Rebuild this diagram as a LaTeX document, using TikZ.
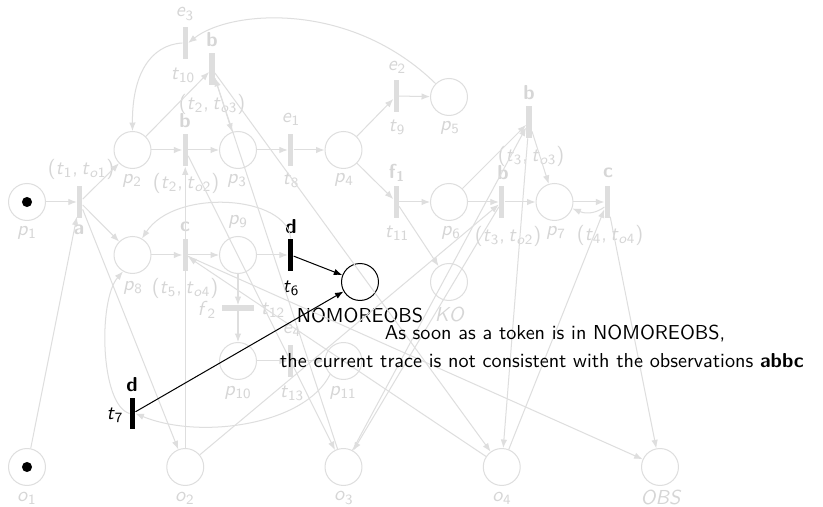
\documentclass[tikz,border=0pt]{standalone}
\usetikzlibrary{arrows.meta,calc}
\renewcommand{\familydefault}{\sfdefault}
\definecolor{fadeline}{RGB}{222,222,222}
\definecolor{fadetext}{RGB}{214,214,214}
% variable with subscript, sans italic like beamer math
\newcommand\mv[2]{\textit{#1}\textsubscript{#2}}
\newcommand\pair[2]{(\mv{t}{#1},\,\mv{t}{\textit{o}#2})}
\begin{document}
\begin{tikzpicture}[x=0.495pt,y=-0.495pt,font=\sffamily,
  pl/.style={circle,draw=fadeline,line width=0.5pt,minimum size=18.3pt,inner sep=0pt},
  plon/.style={pl,draw=black},
  tok/.style={circle,fill=black,minimum size=5pt,inner sep=0pt},
  tbar/.style={rectangle,fill=fadeline,draw=none,minimum width=2.5pt,minimum height=15.8pt,inner sep=0pt},
  thbar/.style={tbar,minimum width=15.8pt,minimum height=2.5pt},
  tbaron/.style={tbar,fill=black},
  lab/.style={text=fadetext,inner sep=0pt},
  labon/.style={text=black,inner sep=0pt},
  flow/.style={draw=fadeline,line width=0.5pt,-{Latex[length=4.2pt,width=3.2pt]}},
  flowon/.style={flow,draw=black}]
\fill[white] (0,0) rectangle (823,507);
\useasboundingbox (0,0) rectangle (823,507);

% places of the product net
\node[pl] (p1) at (27,202) {};
\node[tok] (p1tok) at (p1) {};
\node[pl] (p2) at (132.5,150) {};
\node[pl] (p3) at (238,150) {};
\node[pl] (p4) at (343.5,150) {};
\node[pl] (p5) at (449,97) {};
\node[pl] (p6) at (449,202) {};
\node[pl] (p7) at (554.5,202) {};
\node[pl] (p8) at (132.5,255) {};
\node[pl] (p9) at (238,255) {};
\node[pl] (p10) at (238,361) {};
\node[pl] (p11) at (343.5,361) {};
\node[plon] (nmo) at (360,282) {};
\node[pl] (ko) at (449,282) {};
% observation places
\node[pl] (o1) at (27,467) {};
\node[tok] (o1tok) at (o1) {};
\node[pl] (o2) at (185.25,467) {};
\node[pl] (o3) at (343.5,467) {};
\node[pl] (o4) at (501.75,467) {};
\node[pl] (obs) at (660,467) {};

% transitions
\node[tbar] (t1) at (79.75,202) {};
\node[tbar] (t2o2) at (185.25,150) {};
\node[tbar] (t2o3) at (212,69) {};
\node[tbar] (t10) at (185.25,43) {};
\node[tbar] (t8) at (290.75,150) {};
\node[tbar] (t9) at (396.25,96) {};
\node[tbar] (t11) at (396.25,202) {};
\node[tbar] (t3o2) at (501.75,202) {};
\node[tbar] (t3o3) at (529,122) {};
\node[tbar] (t4o4) at (607.25,202) {};
\node[tbar] (t5o4) at (185.25,255) {};
\node[tbaron] (t6) at (290.75,255) {};
\node[thbar] (t12) at (238,308) {};
\node[tbar] (t13) at (290.75,361) {};
\node[tbaron] (t7) at (132.5,413.5) {};

% labels of places
\node[lab] (lp1) at (27,233) {\mv{p}{1}};
\node[lab] (lp2) at (132,181) {\mv{p}{2}};
\node[lab] (lp3) at (237,181) {\mv{p}{3}};
\node[lab] (lp4) at (344,180) {\mv{p}{4}};
\node[lab] (lp5) at (450,128) {\mv{p}{5}};
\node[lab] (lp6) at (451,233) {\mv{p}{6}};
\node[lab] (lp7) at (556,233) {\mv{p}{7}};
\node[lab] (lp8) at (133,288) {\mv{p}{8}};
\node[lab] (lp9) at (238,222) {\mv{p}{9}};
\node[lab] (lp10) at (238,393) {\mv{p}{10}};
\node[lab] (lp11) at (343,393) {\mv{p}{11}};
\node[lab] (lko) at (450,314) {\textit{KO}};
\node[labon] (lnmo) at (360,315) {NOMOREOBS};
\node[lab] (lo1) at (27,498) {\mv{o}{1}};
\node[lab] (lo2) at (185,498) {\mv{o}{2}};
\node[lab] (lo3) at (344,498) {\mv{o}{3}};
\node[lab] (lo4) at (502,498) {\mv{o}{4}};
\node[lab] (lobs) at (661,497) {\textit{OBS}};

% labels of transitions
\node[lab] (lt1) at (81,169) {\pair{1}{1}};
\node[lab] (at1) at (79,230) {\textbf{a}};
\node[lab] (bt2o2) at (185,121) {\textbf{b}};
\node[lab] (lt2o2) at (186,183) {\pair{2}{2}};
\node[lab] (bt2o3) at (212,40) {\textbf{b}};
\node[lab] (lt2o3) at (212,104) {\pair{2}{3}};
\node[lab] (et10) at (185,14) {\mv{e}{3}};
\node[lab] (lt10) at (183,75) {\mv{t}{10}};
\node[lab] (et8) at (291,119) {\mv{e}{1}};
\node[lab] (lt8) at (291,180) {\mv{t}{8}};
\node[lab] (et9) at (397,67) {\mv{e}{2}};
\node[lab] (lt9) at (397,127) {\mv{t}{9}};
\node[lab] (ft11) at (397,173) {\textbf{f}\textsubscript{\textbf{1}}};
\node[lab] (lt11) at (397,233) {\mv{t}{11}};
\node[lab] (bt3o2) at (503,173) {\textbf{b}};
\node[lab] (lt3o2) at (508,236) {\pair{3}{2}};
\node[lab] (bt3o3) at (529,93) {\textbf{b}};
\node[lab] (lt3o3) at (531,156) {\pair{3}{3}};
\node[lab] (ct4o4) at (608,173) {\textbf{c}};
\node[lab] (lt4o4) at (610,235) {\pair{4}{4}};
\node[lab] (ct5o4) at (185,227) {\textbf{c}};
\node[lab] (lt5o4) at (185,288) {\pair{5}{4}};
\node[labon] (dt6) at (291,227) {\textbf{d}};
\node[labon] (lt6) at (291,288) {\mv{t}{6}};
\node[lab] (ft12) at (207,310) {\mv{f}{2}};
\node[lab] (lt12) at (273,310) {\mv{t}{12}};
\node[lab] (et13) at (292,330) {\mv{e}{4}};
\node[lab] (lt13) at (292,393) {\mv{t}{13}};
\node[labon] (dt7) at (132,385) {\textbf{d}};
\node[labon] (lt7) at (115,415) {\mv{t}{7}};

% arcs, first observation
\draw[flow] (p1) -- (t1);
\draw[flow] (o1) -- (t1);
\draw[flow] (t1) -- (p2);
\draw[flow] (t1) -- (p8);
\draw[flow] (t1) -- (o2);
% second and third observation
\draw[flow] (p2) -- (t2o2);
\draw[flow] (o2) -- (t2o2);
\draw[flow] (t2o2) -- (p3);
\draw[flow] (t2o2) -- (o3);
\draw[flow] (p2) -- (t2o3);
\draw[flow] (o3) -- (t2o3);
\draw[flow] (t2o3) -- (p3);
\draw[flow] (t2o3) -- (o4);
\draw[flow] (p6) -- (t3o2);
\draw[flow] (o2) -- (t3o2);
\draw[flow] (t3o2) -- (p7);
\draw[flow] (t3o2) -- (o3);
\draw[flow] (p6) -- (t3o3);
\draw[flow] (o3) -- (t3o3);
\draw[flow] (t3o3) -- (p7);
\draw[flow] (t3o3) -- (o4);
% fourth observation
\draw[flow] (p7) -- (t4o4);
\draw[flow] (o4) -- (t4o4);
\draw[flow] ([yshift=-2.5pt]t4o4.west) .. controls (598,212) and (588,215) .. (p7.-20);
\draw[flow] (t4o4) -- (obs);
\draw[flow] (p8) -- (t5o4);
\draw[flow] (o4) -- (t5o4);
\draw[flow] (t5o4) -- (p9);
\draw[flow] (t5o4) -- (obs);
% unobservable part
\draw[flow] (p3) -- (t8);
\draw[flow] (t8) -- (p4);
\draw[flow] (p4) -- (t9);
\draw[flow] (t9) -- (p5);
\draw[flow] (p5.135) .. controls (350,0) and (230,10) .. (t10.east);
\draw[flow] (t10.west) .. controls (150,45) and (132,75) .. (p2.north);
\draw[flow] (p4) -- (t11);
\draw[flow] (t11) -- (p6);
\draw[flow] (t11) -- (ko);
\draw[flow] (p9) -- (t6);
\draw[flow] (t6.north) .. controls (287,195) and (175,188) .. (p8.60);
\draw[flow] (p9) -- (t12);
\draw[flow] (t12) -- (p10);
\draw[flow] (p10) -- (t13);
\draw[flow] (t13) -- (p11);
\draw[flow] (p11.225) .. controls (305,425) and (200,440) .. (t7.east);
\draw[flow] (t7.west) .. controls (100,405) and (98,300) .. (p8.240);
% the d transitions feed NOMOREOBS
\draw[flowon] (t6) -- (nmo);
\draw[flowon] (t7) -- (nmo);

\node[anchor=base,inner sep=0pt] (msg1) at (555,340) {As soon as a token is in NOMOREOBS,};
\node[anchor=base,inner sep=0pt] (msg2) at (542,368) {the current trace is not consistent with the observations \textbf{abbc}};
\end{tikzpicture}
\end{document}
